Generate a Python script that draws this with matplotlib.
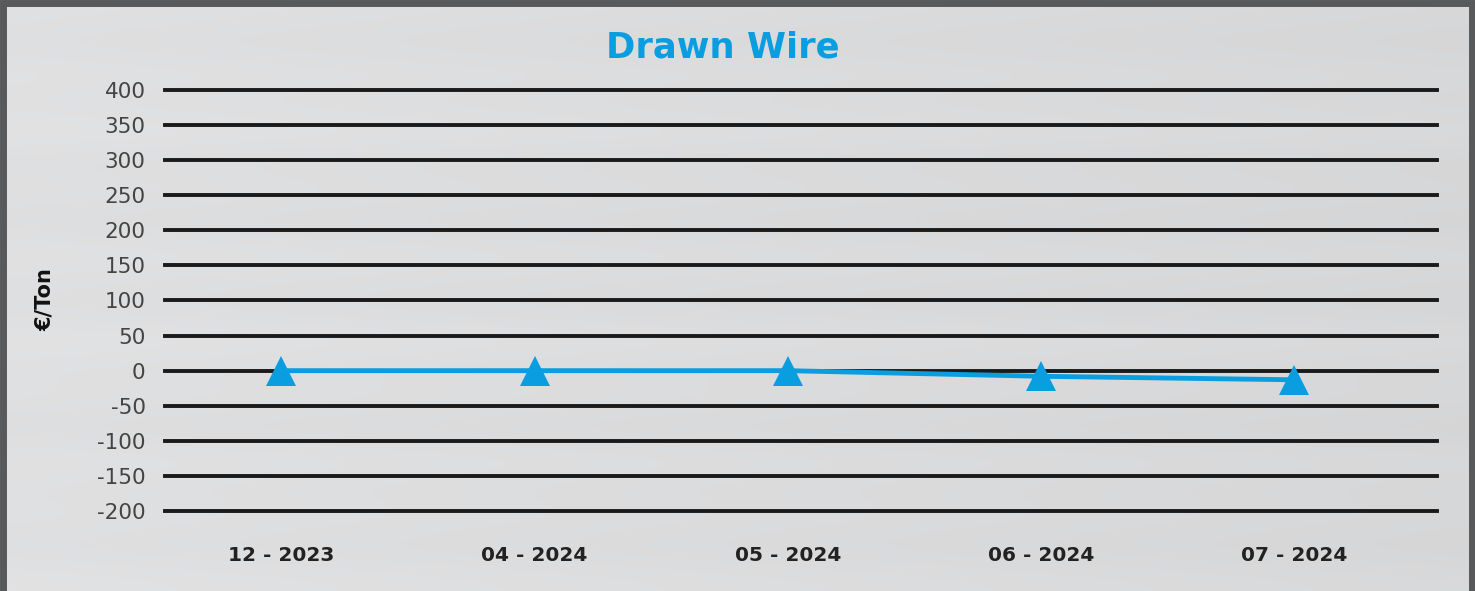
import numpy as np
import matplotlib.pyplot as plt
from matplotlib.patches import Rectangle

# chart data
months = ['12 - 2023', '04 - 2024', '05 - 2024', '06 - 2024', '07 - 2024']
values = [0, 0, 0, -8, -13]
yticks = [400, 350, 300, 250, 200, 150, 100, 50, 0, -50, -100, -150, -200]

blue = '#0a9ee0'
W, H = 1475, 591

fig = plt.figure(figsize=(W / 100, H / 100), dpi=100, facecolor='#dfe0e1')

# streaky silver background
bg = fig.add_axes([0, 0, 1, 1], zorder=-5)
rows = np.array([0.88, 0.87, 0.885, 0.875, 0.89, 0.87, 0.88, 0.865, 0.885, 0.875,
                 0.87, 0.89, 0.875, 0.88, 0.865, 0.885, 0.875, 0.88, 0.87, 0.885])
grad = np.linspace(0.0, -0.035, 60)
img = rows[:, None] + grad[None, :]
bg.imshow(np.dstack([img, img + 0.002, img + 0.006]).clip(0, 1), aspect='auto',
          extent=[0, 1, 0, 1], interpolation='bicubic')
bg.set_xlim(0, 1)
bg.set_ylim(0, 1)
bg.axis('off')

# dark frame
fig.patches.append(Rectangle((0.002, -0.01), 0.996, 1.005, transform=fig.transFigure,
                             fill=False, edgecolor='#58595b', linewidth=5, zorder=10))

ax = fig.add_axes([165 / W, 1 - 511 / H, (1437 - 165) / W, (511 - 90) / H])
ax.patch.set_alpha(0)
for s in ax.spines.values():
    s.set_visible(False)

x = np.arange(len(months))
ax.set_ylim(-200, 400)
ax.set_xlim(-0.46, 4.565)
for y in yticks:
    ax.axhline(y, color='#1a1a1a', linewidth=2.8, zorder=1, clip_on=False)

ax.plot(x, values, color=blue, linewidth=3.5, marker='^', markersize=21,
        markeredgewidth=0, zorder=3, clip_on=False)

ax.set_yticks(yticks)
ax.set_yticklabels([str(v) for v in yticks], fontsize=15.5, color='#444444',
                   fontfamily='DejaVu Sans')
ax.tick_params(axis='y', length=0, pad=14)
ax.set_xticks(x)
ax.set_xticklabels(months, fontsize=14.5, fontweight='bold', color='#222222',
                   fontfamily='DejaVu Sans')
ax.tick_params(axis='x', length=0, pad=25)

fig.text(723 / W, 1 - 48 / H, 'Drawn Wire', color=blue, fontsize=25.5,
         fontweight='bold', fontfamily='DejaVu Sans', ha='center', va='center')
fig.text(45 / W, 1 - 300 / H, '€/Ton', rotation=90, fontsize=15,
         fontweight='bold', color='#111111', fontfamily='DejaVu Sans',
         ha='center', va='center')

fig.savefig('out.png', dpi=100, facecolor=fig.get_facecolor())
